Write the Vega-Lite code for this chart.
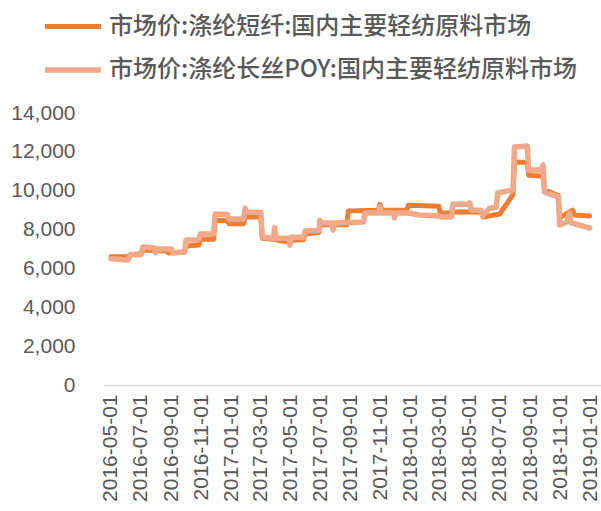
{
  "$schema": "https://vega.github.io/schema/vega-lite/v6.json",
  "width": 497,
  "height": 272,
  "autosize": "none",
  "padding": {"left": 104, "top": 113, "right": 0, "bottom": 126},
  "background": "white",
  "config": {"view": {"stroke": null}, "font": "Liberation Sans"},
  "data": {"values": [
    {"date":"2016-05-01","s":"市场价:涤纶短纤:国内主要轻纺原料市场","v":6600},
    {"date":"2016-06-04","s":"市场价:涤纶短纤:国内主要轻纺原料市场","v":6620},
    {"date":"2016-06-10","s":"市场价:涤纶短纤:国内主要轻纺原料市场","v":6700},
    {"date":"2016-07-02","s":"市场价:涤纶短纤:国内主要轻纺原料市场","v":6750},
    {"date":"2016-07-05","s":"市场价:涤纶短纤:国内主要轻纺原料市场","v":6950},
    {"date":"2016-08-22","s":"市场价:涤纶短纤:国内主要轻纺原料市场","v":6900},
    {"date":"2016-08-26","s":"市场价:涤纶短纤:国内主要轻纺原料市场","v":6800},
    {"date":"2016-09-28","s":"市场价:涤纶短纤:国内主要轻纺原料市场","v":6850},
    {"date":"2016-10-01","s":"市场价:涤纶短纤:国内主要轻纺原料市场","v":7150},
    {"date":"2016-10-27","s":"市场价:涤纶短纤:国内主要轻纺原料市场","v":7200},
    {"date":"2016-10-30","s":"市场价:涤纶短纤:国内主要轻纺原料市场","v":7500},
    {"date":"2016-11-26","s":"市场价:涤纶短纤:国内主要轻纺原料市场","v":7500},
    {"date":"2016-11-29","s":"市场价:涤纶短纤:国内主要轻纺原料市场","v":8480},
    {"date":"2016-12-24","s":"市场价:涤纶短纤:国内主要轻纺原料市场","v":8450},
    {"date":"2016-12-27","s":"市场价:涤纶短纤:国内主要轻纺原料市场","v":8300},
    {"date":"2017-01-26","s":"市场价:涤纶短纤:国内主要轻纺原料市场","v":8300},
    {"date":"2017-01-29","s":"市场价:涤纶短纤:国内主要轻纺原料市场","v":8650},
    {"date":"2017-03-02","s":"市场价:涤纶短纤:国内主要轻纺原料市场","v":8650},
    {"date":"2017-03-05","s":"市场价:涤纶短纤:国内主要轻纺原料市场","v":7550},
    {"date":"2017-03-28","s":"市场价:涤纶短纤:国内主要轻纺原料市场","v":7500},
    {"date":"2017-04-27","s":"市场价:涤纶短纤:国内主要轻纺原料市场","v":7350},
    {"date":"2017-04-30","s":"市场价:涤纶短纤:国内主要轻纺原料市场","v":7250},
    {"date":"2017-05-03","s":"市场价:涤纶短纤:国内主要轻纺原料市场","v":7450},
    {"date":"2017-05-28","s":"市场价:涤纶短纤:国内主要轻纺原料市场","v":7480},
    {"date":"2017-05-31","s":"市场价:涤纶短纤:国内主要轻纺原料市场","v":7770},
    {"date":"2017-06-28","s":"市场价:涤纶短纤:国内主要轻纺原料市场","v":7850},
    {"date":"2017-07-01","s":"市场价:涤纶短纤:国内主要轻纺原料市场","v":8250},
    {"date":"2017-07-24","s":"市场价:涤纶短纤:国内主要轻纺原料市场","v":8250},
    {"date":"2017-07-28","s":"市场价:涤纶短纤:国内主要轻纺原料市场","v":8100},
    {"date":"2017-07-31","s":"市场价:涤纶短纤:国内主要轻纺原料市场","v":8250},
    {"date":"2017-08-24","s":"市场价:涤纶短纤:国内主要轻纺原料市场","v":8250},
    {"date":"2017-08-27","s":"市场价:涤纶短纤:国内主要轻纺原料市场","v":8950},
    {"date":"2017-10-27","s":"市场价:涤纶短纤:国内主要轻纺原料市场","v":9000},
    {"date":"2017-10-30","s":"市场价:涤纶短纤:国内主要轻纺原料市场","v":9300},
    {"date":"2017-11-03","s":"市场价:涤纶短纤:国内主要轻纺原料市场","v":9000},
    {"date":"2017-12-24","s":"市场价:涤纶短纤:国内主要轻纺原料市场","v":9000},
    {"date":"2017-12-27","s":"市场价:涤纶短纤:国内主要轻纺原料市场","v":9250},
    {"date":"2018-02-27","s":"市场价:涤纶短纤:国内主要轻纺原料市场","v":9200},
    {"date":"2018-03-02","s":"市场价:涤纶短纤:国内主要轻纺原料市场","v":8850},
    {"date":"2018-03-25","s":"市场价:涤纶短纤:国内主要轻纺原料市场","v":8850},
    {"date":"2018-03-28","s":"市场价:涤纶短纤:国内主要轻纺原料市场","v":8900},
    {"date":"2018-05-25","s":"市场价:涤纶短纤:国内主要轻纺原料市场","v":8900},
    {"date":"2018-05-28","s":"市场价:涤纶短纤:国内主要轻纺原料市场","v":8650},
    {"date":"2018-07-01","s":"市场价:涤纶短纤:国内主要轻纺原料市场","v":8800},
    {"date":"2018-07-28","s":"市场价:涤纶短纤:国内主要轻纺原料市场","v":9800},
    {"date":"2018-07-31","s":"市场价:涤纶短纤:国内主要轻纺原料市场","v":11480},
    {"date":"2018-08-26","s":"市场价:涤纶短纤:国内主要轻纺原料市场","v":11450},
    {"date":"2018-08-29","s":"市场价:涤纶短纤:国内主要轻纺原料市场","v":10800},
    {"date":"2018-09-27","s":"市场价:涤纶短纤:国内主要轻纺原料市场","v":10750},
    {"date":"2018-09-30","s":"市场价:涤纶短纤:国内主要轻纺原料市场","v":10050},
    {"date":"2018-10-28","s":"市场价:涤纶短纤:国内主要轻纺原料市场","v":9750},
    {"date":"2018-10-31","s":"市场价:涤纶短纤:国内主要轻纺原料市场","v":8600},
    {"date":"2018-11-26","s":"市场价:涤纶短纤:国内主要轻纺原料市场","v":9000},
    {"date":"2018-11-30","s":"市场价:涤纶短纤:国内主要轻纺原料市场","v":8750},
    {"date":"2018-12-31","s":"市场价:涤纶短纤:国内主要轻纺原料市场","v":8700},
    {"date":"2016-05-01","s":"市场价:涤纶长丝POY:国内主要轻纺原料市场","v":6500},
    {"date":"2016-06-04","s":"市场价:涤纶长丝POY:国内主要轻纺原料市场","v":6430},
    {"date":"2016-06-10","s":"市场价:涤纶长丝POY:国内主要轻纺原料市场","v":6700},
    {"date":"2016-07-02","s":"市场价:涤纶长丝POY:国内主要轻纺原料市场","v":6720},
    {"date":"2016-07-05","s":"市场价:涤纶长丝POY:国内主要轻纺原料市场","v":7100},
    {"date":"2016-07-29","s":"市场价:涤纶长丝POY:国内主要轻纺原料市场","v":7050},
    {"date":"2016-07-31","s":"市场价:涤纶长丝POY:国内主要轻纺原料市场","v":6800},
    {"date":"2016-08-03","s":"市场价:涤纶长丝POY:国内主要轻纺原料市场","v":7000},
    {"date":"2016-09-01","s":"市场价:涤纶长丝POY:国内主要轻纺原料市场","v":7000},
    {"date":"2016-09-04","s":"市场价:涤纶长丝POY:国内主要轻纺原料市场","v":6800},
    {"date":"2016-09-28","s":"市场价:涤纶长丝POY:国内主要轻纺原料市场","v":6850},
    {"date":"2016-10-01","s":"市场价:涤纶长丝POY:国内主要轻纺原料市场","v":7460},
    {"date":"2016-10-27","s":"市场价:涤纶长丝POY:国内主要轻纺原料市场","v":7480},
    {"date":"2016-10-30","s":"市场价:涤纶长丝POY:国内主要轻纺原料市场","v":7770},
    {"date":"2016-11-26","s":"市场价:涤纶长丝POY:国内主要轻纺原料市场","v":7770},
    {"date":"2016-11-29","s":"市场价:涤纶长丝POY:国内主要轻纺原料市场","v":8800},
    {"date":"2016-12-24","s":"市场价:涤纶长丝POY:国内主要轻纺原料市场","v":8780},
    {"date":"2016-12-27","s":"市场价:涤纶长丝POY:国内主要轻纺原料市场","v":8540},
    {"date":"2017-01-26","s":"市场价:涤纶长丝POY:国内主要轻纺原料市场","v":8540},
    {"date":"2017-01-29","s":"市场价:涤纶长丝POY:国内主要轻纺原料市场","v":9100},
    {"date":"2017-02-01","s":"市场价:涤纶长丝POY:国内主要轻纺原料市场","v":8900},
    {"date":"2017-03-02","s":"市场价:涤纶长丝POY:国内主要轻纺原料市场","v":8880},
    {"date":"2017-03-05","s":"市场价:涤纶长丝POY:国内主要轻纺原料市场","v":7600},
    {"date":"2017-03-28","s":"市场价:涤纶长丝POY:国内主要轻纺原料市场","v":7550},
    {"date":"2017-03-30","s":"市场价:涤纶长丝POY:国内主要轻纺原料市场","v":8100},
    {"date":"2017-04-02","s":"市场价:涤纶长丝POY:国内主要轻纺原料市场","v":7550},
    {"date":"2017-04-28","s":"市场价:涤纶长丝POY:国内主要轻纺原料市场","v":7550},
    {"date":"2017-04-30","s":"市场价:涤纶长丝POY:国内主要轻纺原料市场","v":7200},
    {"date":"2017-05-03","s":"市场价:涤纶长丝POY:国内主要轻纺原料市场","v":7600},
    {"date":"2017-05-28","s":"市场价:涤纶长丝POY:国内主要轻纺原料市场","v":7600},
    {"date":"2017-05-31","s":"市场价:涤纶长丝POY:国内主要轻纺原料市场","v":7930},
    {"date":"2017-06-28","s":"市场价:涤纶长丝POY:国内主要轻纺原料市场","v":7950},
    {"date":"2017-06-30","s":"市场价:涤纶长丝POY:国内主要轻纺原料市场","v":8480},
    {"date":"2017-07-03","s":"市场价:涤纶长丝POY:国内主要轻纺原料市场","v":8340},
    {"date":"2017-07-24","s":"市场价:涤纶长丝POY:国内主要轻纺原料市场","v":8340},
    {"date":"2017-07-27","s":"市场价:涤纶长丝POY:国内主要轻纺原料市场","v":7980},
    {"date":"2017-07-30","s":"市场价:涤纶长丝POY:国内主要轻纺原料市场","v":8340},
    {"date":"2017-09-27","s":"市场价:涤纶长丝POY:国内主要轻纺原料市场","v":8390},
    {"date":"2017-09-30","s":"市场价:涤纶长丝POY:国内主要轻纺原料市场","v":8850},
    {"date":"2017-10-28","s":"市场价:涤纶长丝POY:国内主要轻纺原料市场","v":8850},
    {"date":"2017-10-30","s":"市场价:涤纶长丝POY:国内主要轻纺原料市场","v":9160},
    {"date":"2017-11-02","s":"市场价:涤纶长丝POY:国内主要轻纺原料市场","v":8850},
    {"date":"2017-11-27","s":"市场价:涤纶长丝POY:国内主要轻纺原料市场","v":8850},
    {"date":"2017-11-29","s":"市场价:涤纶长丝POY:国内主要轻纺原料市场","v":8600},
    {"date":"2017-12-02","s":"市场价:涤纶长丝POY:国内主要轻纺原料市场","v":8850},
    {"date":"2017-12-26","s":"市场价:涤纶长丝POY:国内主要轻纺原料市场","v":8850},
    {"date":"2018-01-19","s":"市场价:涤纶长丝POY:国内主要轻纺原料市场","v":8750},
    {"date":"2018-02-28","s":"市场价:涤纶长丝POY:国内主要轻纺原料市场","v":8700},
    {"date":"2018-03-03","s":"市场价:涤纶长丝POY:国内主要轻纺原料市场","v":8650},
    {"date":"2018-03-25","s":"市场价:涤纶长丝POY:国内主要轻纺原料市场","v":8650},
    {"date":"2018-03-28","s":"市场价:涤纶长丝POY:国内主要轻纺原料市场","v":9300},
    {"date":"2018-04-29","s":"市场价:涤纶长丝POY:国内主要轻纺原料市场","v":9300},
    {"date":"2018-05-01","s":"市场价:涤纶长丝POY:国内主要轻纺原料市场","v":9370},
    {"date":"2018-05-04","s":"市场价:涤纶长丝POY:国内主要轻纺原料市场","v":9000},
    {"date":"2018-05-24","s":"市场价:涤纶长丝POY:国内主要轻纺原料市场","v":9000},
    {"date":"2018-05-27","s":"市场价:涤纶长丝POY:国内主要轻纺原料市场","v":8700},
    {"date":"2018-06-10","s":"市场价:涤纶长丝POY:国内主要轻纺原料市场","v":9100},
    {"date":"2018-06-24","s":"市场价:涤纶长丝POY:国内主要轻纺原料市场","v":9150},
    {"date":"2018-06-27","s":"市场价:涤纶长丝POY:国内主要轻纺原料市场","v":9880},
    {"date":"2018-07-28","s":"市场价:涤纶长丝POY:国内主要轻纺原料市场","v":10040},
    {"date":"2018-07-31","s":"市场价:涤纶长丝POY:国内主要轻纺原料市场","v":12250},
    {"date":"2018-08-26","s":"市场价:涤纶长丝POY:国内主要轻纺原料市场","v":12300},
    {"date":"2018-08-29","s":"市场价:涤纶长丝POY:国内主要轻纺原料市场","v":11070},
    {"date":"2018-09-25","s":"市场价:涤纶长丝POY:国内主要轻纺原料市场","v":11070},
    {"date":"2018-09-27","s":"市场价:涤纶长丝POY:国内主要轻纺原料市场","v":11320},
    {"date":"2018-09-30","s":"市场价:涤纶长丝POY:国内主要轻纺原料市场","v":9930},
    {"date":"2018-10-28","s":"市场价:涤纶长丝POY:国内主要轻纺原料市场","v":9680},
    {"date":"2018-10-31","s":"市场价:涤纶长丝POY:国内主要轻纺原料市场","v":8240},
    {"date":"2018-11-14","s":"市场价:涤纶长丝POY:国内主要轻纺原料市场","v":8390},
    {"date":"2018-11-20","s":"市场价:涤纶长丝POY:国内主要轻纺原料市场","v":8850},
    {"date":"2018-11-23","s":"市场价:涤纶长丝POY:国内主要轻纺原料市场","v":8340},
    {"date":"2018-12-31","s":"市场价:涤纶长丝POY:国内主要轻纺原料市场","v":8080}
  ]},
  "mark": {"type": "line", "strokeJoin": "round", "strokeCap": "round"},
  "encoding": {
    "x": {
      "field": "date", "type": "temporal",
      "scale": {"type": "utc", "domain": [{"year":2016,"month":4,"date":17,"utc":true},{"year":2019,"month":1,"date":23,"utc":true}]},
      "axis": {
        "title": null, "format": "%Y-%m-%d", "labelAngle": -90,
        "values": [
          {"year":2016,"month":5,"date":1,"utc":true},{"year":2016,"month":7,"date":1,"utc":true},
          {"year":2016,"month":9,"date":1,"utc":true},{"year":2016,"month":11,"date":1,"utc":true},
          {"year":2017,"month":1,"date":1,"utc":true},{"year":2017,"month":3,"date":1,"utc":true},
          {"year":2017,"month":5,"date":1,"utc":true},{"year":2017,"month":7,"date":1,"utc":true},
          {"year":2017,"month":9,"date":1,"utc":true},{"year":2017,"month":11,"date":1,"utc":true},
          {"year":2018,"month":1,"date":1,"utc":true},{"year":2018,"month":3,"date":1,"utc":true},
          {"year":2018,"month":5,"date":1,"utc":true},{"year":2018,"month":7,"date":1,"utc":true},
          {"year":2018,"month":9,"date":1,"utc":true},{"year":2018,"month":11,"date":1,"utc":true},
          {"year":2019,"month":1,"date":1,"utc":true}
        ],
        "ticks": false, "grid": false, "domainColor": "#D9D9D9", "domainWidth": 1.5,
        "labelFontSize": 21, "labelColor": "#595959", "labelPadding": 9, "labelFont": "Liberation Sans"
      }
    },
    "y": {
      "field": "v", "type": "quantitative",
      "scale": {"domain": [0, 14000], "nice": false},
      "axis": {
        "title": null, "values": [0,2000,4000,6000,8000,10000,12000,14000], "format": ",d",
        "ticks": false, "domain": false, "grid": false,
        "labelFontSize": 21, "labelColor": "#595959", "labelPadding": 29, "labelFont": "Liberation Sans"
      }
    },
    "color": {
      "field": "s", "type": "nominal",
      "scale": {"domain": ["市场价:涤纶短纤:国内主要轻纺原料市场","市场价:涤纶长丝POY:国内主要轻纺原料市场"], "range": ["#ED7D31","#F2A98A"]},
      "legend": {
        "title": null, "orient": "none", "legendX": -62, "legendY": -117, "direction": "vertical",
        "symbolType": "stroke", "symbolSize": 3136, "symbolStrokeWidth": 5,
        "labelFontSize": 24, "labelFont": "Noto Sans CJK SC", "labelFontWeight": 500, "labelColor": "#595959",
        "labelOffset": 5, "rowPadding": -1, "labelLimit": 600
      }
    },
    "strokeWidth": {
      "field": "s", "type": "nominal",
      "scale": {"domain": ["市场价:涤纶短纤:国内主要轻纺原料市场","市场价:涤纶长丝POY:国内主要轻纺原料市场"], "range": [5, 5.5]},
      "legend": null
    }
  }
}
